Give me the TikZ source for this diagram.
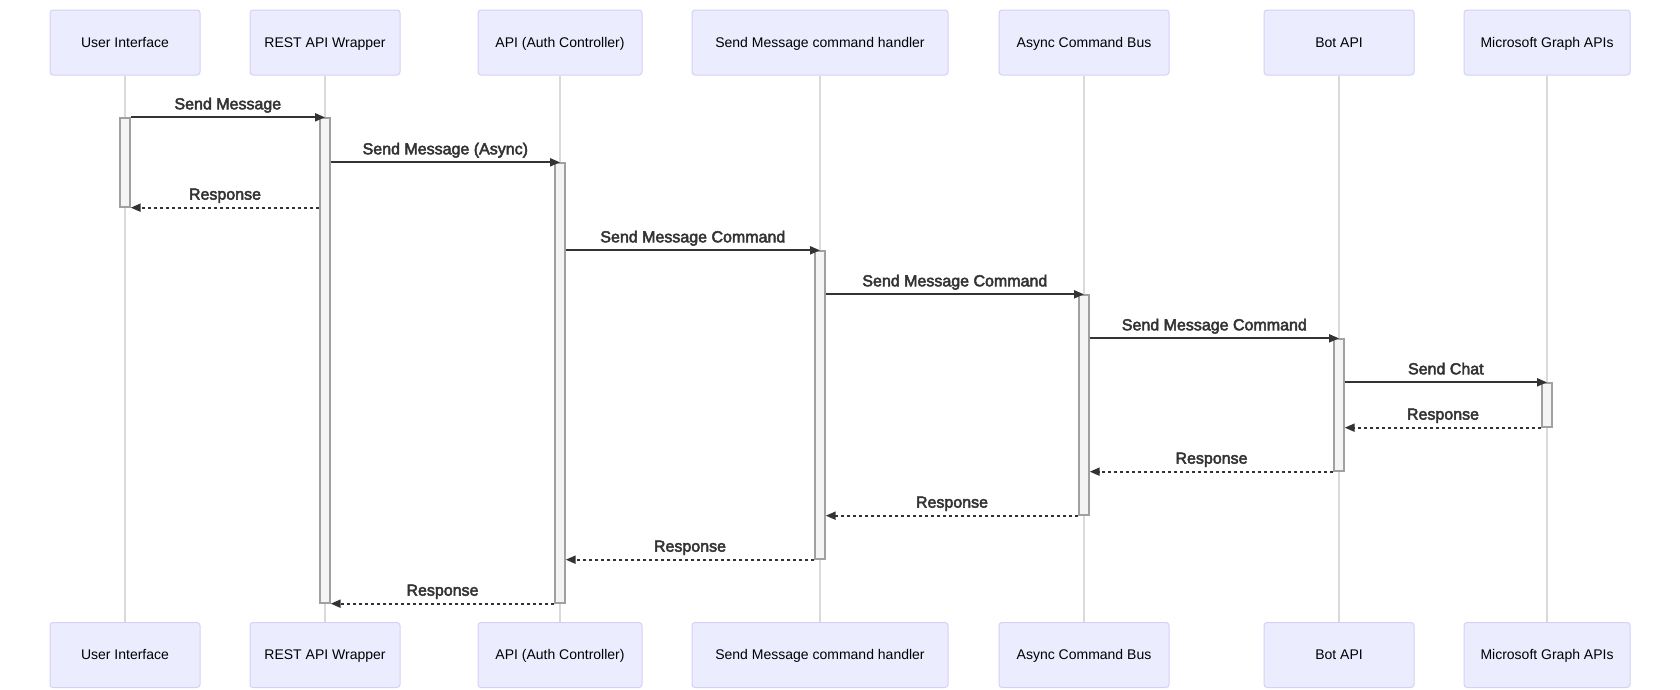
\documentclass[tikz,border=0pt]{standalone}
\usepackage{fontspec}
\setmainfont{Liberation Sans}
\newfontfamily\msgfont{Liberation Sans}[FakeBold=3]
\usetikzlibrary{arrows.meta,fit}
\definecolor{actorfill}{HTML}{ECECFF}
\definecolor{actorline}{HTML}{D6D0F5}
\definecolor{lifecol}{HTML}{DADADA}
\definecolor{actfill}{HTML}{F4F4F4}
\definecolor{actline}{HTML}{A0A0A0}
\definecolor{msgcol}{HTML}{333333}

\begin{document}
\begin{tikzpicture}[x=0.75pt,y=-0.75pt,
  actor/.style={draw=actorline,fill=actorfill,line width=0.75pt,rounded corners=2.25pt,
    minimum height=48.75pt,inner sep=0,text height=0.94em,text depth=0.22em,
    font=\fontsize{10.5}{12}\selectfont},
  lifeline/.style={draw=lifecol,line width=1pt},
  act/.style={draw=actline,fill=actfill,line width=1pt,inner sep=0},
  msg/.style={draw=msgcol,line width=1.5pt,-{Triangle[length=7.5pt,width=6pt]}},
  reply/.style={msg,dash pattern=on 2.25pt off 2.25pt},
  lbl/.style={midway,anchor=base,yshift=6pt,inner sep=0,text=msgcol,
    font=\msgfont\fontsize{12}{14}\selectfont}]
\useasboundingbox (0,0) rectangle (1680,689);

\foreach \n/\x/\w/\t in {ui/125/150/User Interface, rest/325/150/REST API Wrapper,
  api/560/164/{API (Auth Controller)}, hnd/820/256/Send Message command handler,
  bus/1084/170/Async Command Bus, bot/1339/150/Bot API, gr/1547/166/Microsoft Graph APIs}
{
\node[actor,minimum width=0.75*\w pt] (\n-top) at (\x,42.5) {\t};
\node[actor,minimum width=0.75*\w pt] (\n-bot) at (\x,655) {\t};
\draw[lifeline] (\n-top) -- (\n-bot);
}

\foreach \n/\x/\a/\b in {ui/125/118/207, rest/325/118/603, api/560/163/603,
  hnd/820/251/559, bus/1084/295/515, bot/1339/339/471, gr/1547/383/427}
  \node[act,fit={(\x-5,\a) (\x+5,\b)}] (a-\n) {};

\foreach \s/\t/\l in {ui/rest/Send Message, rest/api/{Send Message (Async)},
  api/hnd/Send Message Command, hnd/bus/Send Message Command,
  bus/bot/Send Message Command, bot/gr/Send Chat}
  \draw[msg] (a-\t.north -| a-\s.east) -- (a-\t.north) node[lbl] (l-\t) {\l};

\draw[reply] (a-ui.south east -| a-rest.west) -- (a-ui.south east) node[lbl] (r-ui) {Response};
\foreach \s/\t in {gr/bot, bot/bus, bus/hnd, hnd/api, api/rest}
  \draw[reply] (a-\s.south west) -- (a-\s.south west -| a-\t.east) node[lbl] (r-\s) {Response};
\end{tikzpicture}
\end{document}
